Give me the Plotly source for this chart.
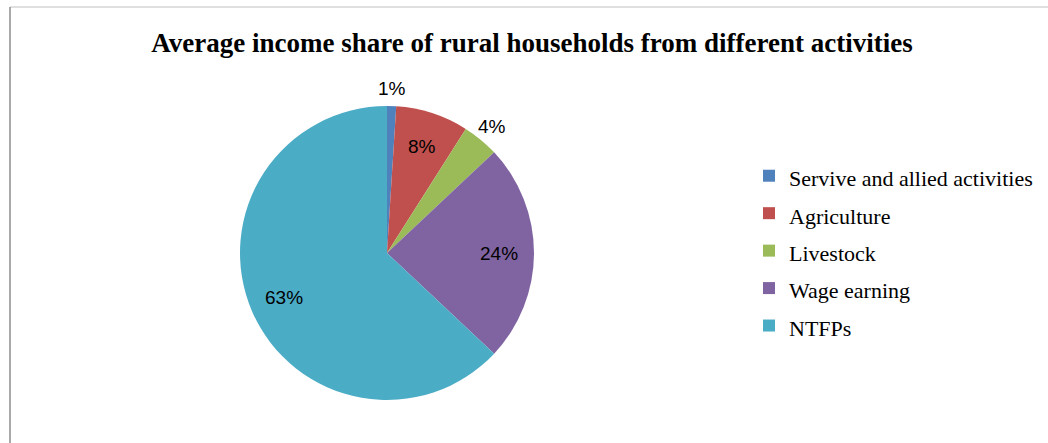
import math
import plotly.graph_objects as go

categories = ["Servive and allied activities", "Agriculture", "Livestock", "Wage earning", "NTFPs"]
shares = [1, 8, 4, 24, 63]
colors = ["#4F81BD", "#C0504D", "#9BBB59", "#8064A2", "#4BACC6"]
label_outside = [True, False, True, False, False]

W, H = 1048, 443
cx, cy, R = 387, 253, 147

legend_labels = ['<span style="font-size:22px">%s</span>' % c for c in categories]

fig = go.Figure(go.Pie(
    labels=legend_labels,
    values=shares,
    sort=False,
    direction="clockwise",
    rotation=0,
    marker=dict(colors=colors, line=dict(width=0)),
    textinfo="none",
    domain=dict(x=[(cx - R) / W, (cx + R) / W], y=[1 - (cy + R) / H, 1 - (cy - R) / H]),
    hoverinfo="label+percent",
))

# data labels placed along each slice's mid-angle (computed from the values)
total = sum(shares)
annotations = []
cum = 0
for v, out in zip(shares, label_outside):
    mid = 2 * math.pi * (cum + v / 2) / total
    cum += v
    r = R * (1.12 if out else 0.76)
    px = cx + r * math.sin(mid)
    py = cy - r * math.cos(mid)
    annotations.append(dict(
        x=px / W, y=1 - py / H, xref="paper", yref="paper",
        text="%d%%" % round(100 * v / total), showarrow=False,
        xanchor="center", yanchor="middle",
        font=dict(family="Liberation Sans, Arial", size=19, color="#000000"),
    ))

fig.update_layout(
    width=W, height=H,
    margin=dict(l=0, r=0, t=0, b=0),
    paper_bgcolor="white",
    plot_bgcolor="white",
    title=dict(
        text="<b>Average income share of rural households from different activities</b>",
        x=532 / W, xanchor="center", y=1 - 43 / H, yanchor="middle",
        font=dict(family="Liberation Serif, Times New Roman", size=27, color="#000000"),
    ),
    annotations=annotations,
    legend=dict(
        x=749 / W, xanchor="left", y=1 - 251 / H, yanchor="middle",
        font=dict(family="Liberation Serif, Times New Roman", size=26.5, color="#000000"),
        bgcolor="rgba(0,0,0,0)",
    ),
    shapes=[
        dict(type="line", xref="paper", yref="paper", x0=10 / W, x1=1, y0=1 - 7 / H, y1=1 - 7 / H,
             line=dict(color="#C0C0C0", width=1)),
        dict(type="line", xref="paper", yref="paper", x0=10 / W, x1=10 / W, y0=0, y1=1 - 7 / H,
             line=dict(color="#8C8C8C", width=1.5)),
    ],
)

fig.write_html("out.html")
